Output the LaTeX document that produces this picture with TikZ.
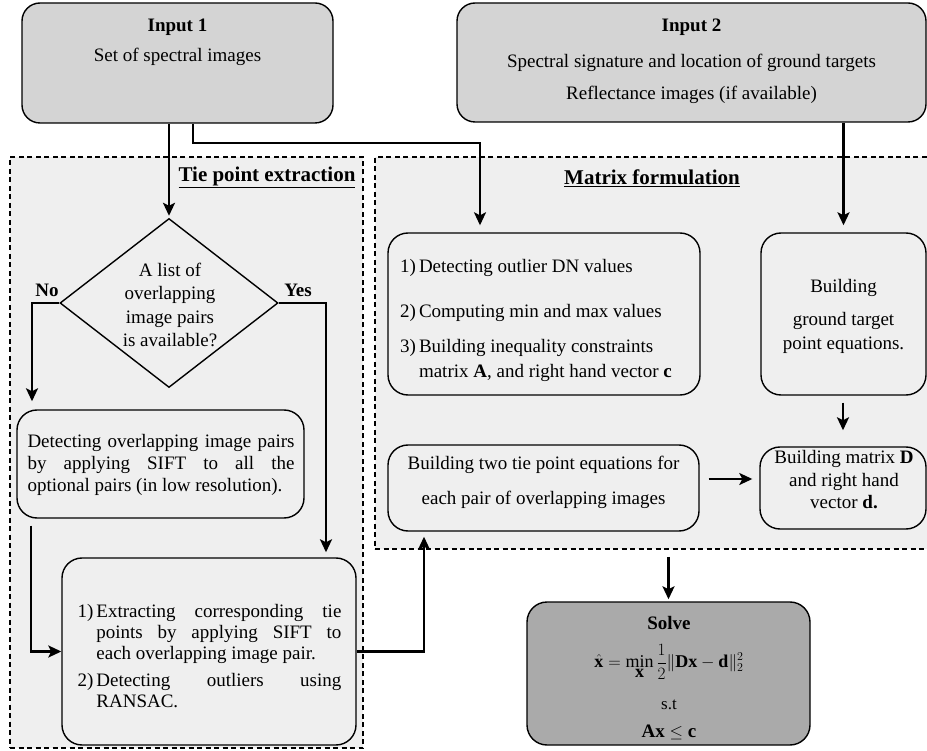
\documentclass[tikz,border=0pt]{standalone}
\usepackage{fontspec}
\setmainfont{Liberation Serif}
\usetikzlibrary{shapes.geometric,arrows.meta}
\definecolor{inbg}{HTML}{D4D4D4}
\definecolor{regbg}{HTML}{EFEFEF}
\definecolor{solvebg}{HTML}{AAAAAA}
\newcommand\myfs{\fontsize{19}{23}\selectfont}
\begin{document}
\begin{tikzpicture}[x=1pt,y=-1pt,
  txt/.style={inner sep=0pt, font=\myfs},
  inbox/.style={draw=black, line width=1.4pt, rounded corners=18pt, fill=inbg, inner sep=0pt},
  ibox/.style={draw=black, line width=1.4pt, rounded corners=20pt, fill=regbg, inner sep=0pt},
  region/.style={draw=black, dash pattern=on 5pt off 3.5pt, fill=regbg, inner sep=0pt},
  titletxt/.style={inner sep=0pt, font=\fontsize{21}{25}\selectfont\bfseries},
  conn/.style={line width=2.5pt, -{Stealth[length=13pt,width=12pt,inset=3pt]}},
  connthin/.style={line width=1.9pt, -{Stealth[length=13pt,width=12pt,inset=3pt]}}
]
\useasboundingbox[fill=white] (0,0) rectangle (927,751);

% input boxes
\node[inbox, minimum width=311pt, minimum height=120pt] (in1) at (177.5,63) {};
\node[txt, font=\myfs\bfseries] (in1a) at (177.5,27) {Input 1};
\node[txt] (in1b) at (177.5,57) {Set of spectral images};

\node[inbox, minimum width=469pt, minimum height=119pt] (in2) at (691.5,62.5) {};
\node[txt, font=\myfs\bfseries] (in2a) at (691.5,27) {Input 2};
\node[txt] (in2b) at (691.5,63) {Spectral signature and location of ground targets};
\node[txt] (in2c) at (691.5,95) {Reflectance images (if available)};

% regions
\node[region, line width=1.2pt, minimum width=353pt, minimum height=591pt] (treg) at (186.5,452.5) {};
\node[region, line width=1.8pt, minimum width=560pt, minimum height=392pt] (mreg) at (655,353) {};
\node[titletxt] (ttie) at (267,177) {\underline{Tie point extraction}};
\node[titletxt] (tmat) at (652,178) {\underline{Matrix formulation}};

% tie point extraction
\node[draw=black, line width=1.4pt, diamond, minimum width=218pt, minimum height=169pt, inner sep=0pt, fill=regbg] (dia) at (169,303) {};
\node[txt, align=center, font=\fontsize{19}{23.3}\selectfont] (diat) at (170,305) {A list of\\overlapping\\image pairs\\is available?};
\node[txt, font=\myfs\bfseries] (no) at (47,290) {No};
\node[txt, font=\myfs\bfseries] (yes) at (298,290) {Yes};

\node[ibox, minimum width=287pt, minimum height=108pt] (det) at (160.5,464) {};
\node[txt, text width=267pt, align=justify, font=\fontsize{19}{22}\selectfont] (dett) at (161,465)
  {Detecting overlapping image pairs\linebreak by applying SIFT to all the\linebreak optional pairs (in low resolution).};

\node[ibox, minimum width=294pt, minimum height=187pt] (tie) at (209,651.5) {};
\node[txt, font=\fontsize{19}{21}\selectfont] (tiet) at (209.5,658)
  {\begin{tabular}{@{}l@{\hspace{3pt}}p{245pt}@{}}
   1) & Extracting corresponding tie\linebreak points by applying SIFT to\linebreak each overlapping image pair.\\[6pt]
   2) & Detecting outliers using\linebreak RANSAC.
   \end{tabular}};

% matrix formulation
\node[ibox, minimum width=312pt, minimum height=162pt] (mA) at (544,314) {};
\node[txt, anchor=west, font=\fontsize{19}{25}\selectfont] (mAt) at (400,320)
  {\begin{tabular}{@{}l@{\hspace{3pt}}l@{}}
   1) & Detecting outlier DN values\\[20pt]
   2) & Computing min and max values\\[10pt]
   3) & Building inequality constraints\\
      & matrix \textbf{A}, and right hand vector \textbf{c}
   \end{tabular}};

\node[ibox, minimum width=165pt, minimum height=162pt] (mR) at (843.5,314) {};
\node[txt, align=center, font=\fontsize{19}{24}\selectfont] (mRt) at (843.5,316) {Building\\[9pt]ground target\\point equations.};

\node[ibox, minimum width=311pt, minimum height=86pt] (mB) at (543.5,488) {};
\node[txt, align=center, font=\fontsize{19}{24}\selectfont] (mBt) at (543.5,482) {Building two tie point equations for\\[11pt]each pair of overlapping images};

\node[ibox, minimum width=166pt, minimum height=82pt] (mD) at (843,488) {};
\node[txt, align=center, font=\fontsize{19}{22.5}\selectfont] (mDt) at (844,480) {Building matrix \textbf{D}\\and right hand\\vector \textbf{d.}};

% solve
\node[draw=black, line width=1.4pt, rounded corners=20pt, fill=solvebg, inner sep=0pt, minimum width=283pt, minimum height=143pt] (solve) at (668.5,673.5) {};
\node[txt, font=\myfs\bfseries] (solvet) at (669,623) {Solve};
\node[txt, font=\fontsize{18}{20}\selectfont] (solvef) at (669,662) {$\displaystyle\hat{\textbf{x}}=\min_{\textbf{x}}\frac{1}{2}\|\textbf{Dx}-\textbf{d}\|_2^2$};
\node[txt, font=\fontsize{17}{20}\selectfont] (st) at (669,705) {s.t};
\node[txt, font=\myfs\bfseries] (ax) at (669,732) {$\textbf{Ax}\leq\textbf{c}$};

% helper coordinates
\coordinate (k1) at (193,143);
\coordinate (k2) at (480,143);
\coordinate (kn) at (32,0);
\coordinate (ky) at (326,0);
\coordinate (kd) at (31,0);
\coordinate (kb) at (424,0);
\coordinate (ka) at (0,479);

% connectors
\draw[conn, shorten >=2pt] (dia.north |- in1.south) -- (dia.north);
\draw[connthin, shorten >=7pt] (k1 |- in1.south) -- (k1) -- (k2) -- (k2 |- mA.north);
\draw[conn, shorten >=7pt] (mR.north |- in2.south) -- (mR.north);
\draw[conn, shorten >=8pt] (dia.west) -| (kn |- det.north);
\draw[conn, shorten >=5pt] (dia.east) -| (ky |- tie.north);
\draw[conn, shorten <=7pt] (kd |- det.south) |- (tie.west);
\draw[conn, shorten >=5pt] (tie.east) -| (kb |- mB.south);
\draw[conn, shorten <=7pt, shorten >=16pt] (mD.north |- mR.south) -- (mD.north);
\draw[connthin, shorten <=9pt, shorten >=7pt] (mB.east |- ka) -- (mD.west |- ka);
\draw[conn, shorten <=7pt, shorten >=2pt] (solve.north |- mreg.south) -- (solve.north);
\end{tikzpicture}
\end{document}
